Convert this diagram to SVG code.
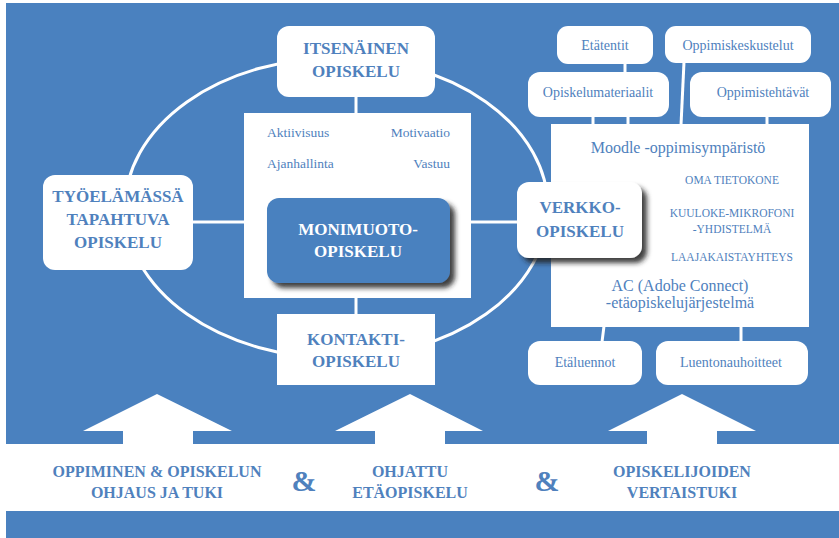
<svg xmlns="http://www.w3.org/2000/svg" width="839" height="538" viewBox="0 0 839 538">
  <style>
    .bg { fill: #4a81bf; }
    .box { fill: #ffffff; }
    .line { stroke: #ffffff; stroke-width: 3; fill: none; }
    .title { font-weight: bold; font-size: 17px; text-anchor: middle; fill: #4f81bd; }
    .wtitle { font-weight: bold; font-size: 17px; fill: #ffffff; text-anchor: middle; }
    .item { font-size: 14px; text-anchor: middle; fill: #4f81bd; }
    .small { font-size: 13.5px; fill: #4f81bd; }
    .caps { font-size: 11.5px; text-anchor: middle; fill: #4f81bd; }
    .big { font-size: 16px; text-anchor: middle; fill: #4f81bd; }
    .foot { font-weight: bold; font-size: 16px; text-anchor: middle; fill: #4f81bd; }
    .amp { font-weight: bold; font-size: 30px; text-anchor: middle; fill: #4f81bd; }
  </style>
  <defs>
    <filter id="shadow" x="-20%" y="-20%" width="150%" height="150%">
      <feDropShadow dx="5" dy="5" stdDeviation="2.5" flood-color="#222222" flood-opacity="0.85"/>
    </filter>
  </defs>

  <!-- page background and bands -->
  <rect x="0" y="0" width="839" height="538" fill="#ffffff"/>
  <rect class="bg" x="6" y="3" width="833" height="441"/>
  <rect class="bg" x="6" y="511" width="833" height="27"/>

  <!-- connectors -->
  <g id="connectors">
    <ellipse class="line" cx="336.5" cy="208" rx="211.5" ry="150"/>
    <line class="line" x1="356" y1="97" x2="356" y2="114"/>
    <line class="line" x1="356" y1="297" x2="356" y2="315"/>
    <line class="line" x1="192" y1="222" x2="245" y2="222"/>
    <line class="line" x1="470" y1="222" x2="518" y2="222"/>
    <line class="line" x1="625" y1="63" x2="625" y2="73"/>
    <line class="line" x1="593" y1="116" x2="593" y2="125"/>
    <line class="line" x1="628" y1="116" x2="628" y2="125"/>
    <line class="line" x1="684" y1="62" x2="681" y2="125"/>
    <line class="line" x1="767" y1="116" x2="767" y2="125"/>
    <line class="line" x1="604" y1="326" x2="602" y2="342"/>
    <line class="line" x1="741" y1="326" x2="741" y2="342"/>
  </g>

  <g font-family="Liberation Serif">
  <g id="itsenainen">
    <rect class="box" x="277" y="26" width="158" height="71" rx="12"/>
    <text class="title" x="356" y="54">ITSENÄINEN</text>
    <text class="title" x="356" y="77">OPISKELU</text>
  </g>

  <g id="ominaisuudet">
    <rect class="box" x="244" y="113" width="227" height="185"/>
    <text class="small" x="267" y="137">Aktiivisuus</text>
    <text class="small" x="450" y="137" text-anchor="end">Motivaatio</text>
    <text class="small" x="267" y="168">Ajanhallinta</text>
    <text class="small" x="450" y="168" text-anchor="end">Vastuu</text>
  </g>

  <g id="monimuoto">
    <rect x="267" y="198" width="183" height="85" rx="12" fill="#4a81bf" filter="url(#shadow)"/>
    <text class="wtitle" x="358" y="235">MONIMUOTO-</text>
    <text class="wtitle" x="358" y="257">OPISKELU</text>
  </g>

  <g id="tyoelama">
    <rect class="box" x="43" y="175" width="150" height="95" rx="12"/>
    <text class="title" x="118" y="202">TYÖELÄMÄSSÄ</text>
    <text class="title" x="118" y="225">TAPAHTUVA</text>
    <text class="title" x="118" y="248">OPISKELU</text>
  </g>

  <g id="kontakti">
    <rect class="box" x="277" y="314" width="158" height="71"/>
    <text class="title" x="356" y="345">KONTAKTI-</text>
    <text class="title" x="356" y="367">OPISKELU</text>
  </g>

  <g id="moodle">
    <rect class="box" x="551" y="124" width="258" height="203"/>
    <text class="big" x="678" y="153" font-size="17">Moodle -oppimisympäristö</text>
    <text class="caps" x="732" y="184" font-size="12">OMA TIETOKONE</text>
    <text class="caps" x="732" y="217">KUULOKE-MIKROFONI</text>
    <text class="caps" x="732" y="233">-YHDISTELMÄ</text>
    <text class="caps" x="732" y="261">LAAJAKAISTAYHTEYS</text>
    <text class="big" x="680" y="291">AC (Adobe Connect)</text>
    <text class="big" x="680" y="308">-etäopiskelujärjestelmä</text>
  </g>

  <g id="verkko">
    <rect class="box" x="517" y="182" width="125" height="76" rx="12" filter="url(#shadow)"/>
    <text class="title" x="580" y="213">VERKKO-</text>
    <text class="title" x="580" y="237">OPISKELU</text>
  </g>

  <g id="etatentit">
    <rect class="box" x="557" y="26" width="96" height="38" rx="11"/>
    <text class="item" x="605" y="50">Etätentit</text>
  </g>
  <g id="oppimiskeskustelut">
    <rect class="box" x="665" y="26" width="146" height="37" rx="11"/>
    <text class="item" x="738" y="50">Oppimiskeskustelut</text>
  </g>
  <g id="opiskelumateriaalit">
    <rect class="box" x="528" y="72" width="141" height="45" rx="12"/>
    <text class="item" x="598" y="97">Opiskelumateriaalit</text>
  </g>
  <g id="oppimistehtavat">
    <rect class="box" x="690" y="72" width="141" height="45" rx="12"/>
    <text class="item" x="763" y="97">Oppimistehtävät</text>
  </g>
  <g id="etaluennot">
    <rect class="box" x="528" y="341" width="114" height="44" rx="12"/>
    <text class="item" x="585" y="367">Etäluennot</text>
  </g>
  <g id="luentonauhoitteet">
    <rect class="box" x="656" y="341" width="152" height="44" rx="12"/>
    <text class="item" x="731" y="367">Luentonauhoitteet</text>
  </g>

  <!-- upward arrows standing on the white band -->
  <g id="nuolet" fill="#ffffff">
    <polygon points="157,394 232,431 193,431 193,445 123,445 123,431 83,431"/>
    <polygon points="410,394 483,431 445,431 445,445 375,445 375,431 335,431"/>
    <polygon points="682,394 756,431 717,431 717,445 647,445 647,431 608,431"/>
  </g>

  <g id="tuki">
    <text class="foot" x="157" y="477">OPPIMINEN &amp; OPISKELUN</text>
    <text class="foot" x="157" y="498">OHJAUS JA TUKI</text>
    <text class="amp" x="304" y="491">&amp;</text>
    <text class="foot" x="410" y="477">OHJATTU</text>
    <text class="foot" x="410" y="498">ETÄOPISKELU</text>
    <text class="amp" x="547" y="491">&amp;</text>
    <text class="foot" x="682" y="477">OPISKELIJOIDEN</text>
    <text class="foot" x="682" y="498">VERTAISTUKI</text>
  </g>
  </g>
</svg>
